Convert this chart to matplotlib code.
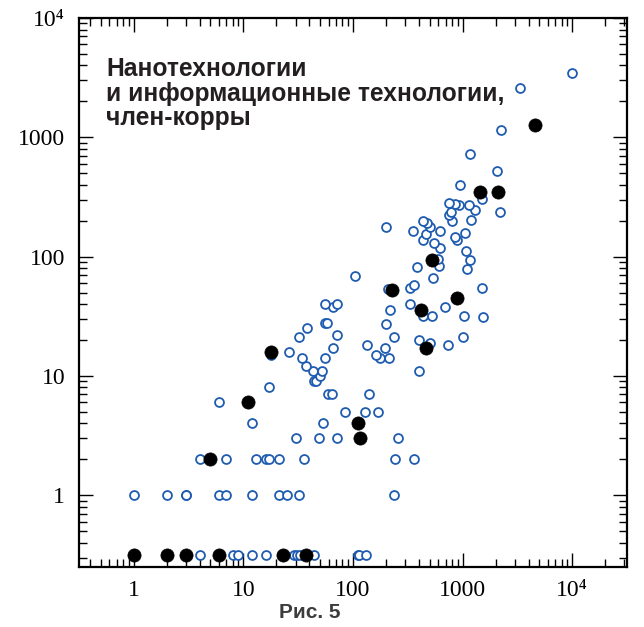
import numpy as np
import matplotlib
matplotlib.use("Agg")
import matplotlib.pyplot as plt
from matplotlib.ticker import LogLocator, FixedLocator, FixedFormatter, NullFormatter

# Members (open) -- x and y counts; y == 0 is drawn on the bottom "zero" row
open_x = [4, 8, 9, 12, 16, 29, 31, 33, 44, 110, 114, 132,
          1, 2, 3, 3, 6, 7, 12, 21, 25, 32, 235,
          4, 7, 13, 16, 17, 21, 36, 240, 360,
          30, 49, 71, 256,
          12, 53,
          84, 130, 170,
          6,
          59, 65, 139,
          17,
          44, 46,
          50,
          43, 52, 397,
          37,
          34, 56, 178, 213,
          18, 161,
          26,
          66, 197,
          134, 730,
          500,
          397,
          32, 235, 1010,
          71,
          38,
          201,
          56, 58,
          1520,
          434, 530, 1030,
          216,
          66, 690,
          55, 71, 334,
          208,
          334, 1510,
          363,
          536,
          104,
          1090,
          387,
          610,
          1160,
          595,
          1080,
          617,
          550,
          434, 890,
          850,
          466,
          1060,
          350, 620,
          200, 500,
          470,
          437,
          800,
          1200,
          750,
          780,
          1310,
          2210,
          920, 1140,
          860,
          750,
          1500,
          940,
          2050,
          1160,
          2250,
          3330,
          10000]
open_y = [0, 0, 0, 0, 0, 0, 0, 0, 0, 0, 0, 0,
          1, 1, 1, 1, 1, 1, 1, 1, 1, 1, 1,
          2, 2, 2, 2, 2, 2, 2, 2, 2,
          3, 3, 3, 3,
          4, 4,
          5, 5, 5,
          6,
          7, 7, 7,
          8,
          9, 9,
          10,
          11, 11, 11,
          12,
          14, 14, 14, 14,
          15, 15,
          16,
          17, 17,
          18, 18,
          19,
          20,
          21, 21, 21,
          22,
          25,
          27,
          28, 28,
          31,
          32, 32, 32,
          36,
          38, 38,
          40, 40, 40,
          53,
          55, 55,
          58,
          66,
          69,
          78,
          82,
          83,
          94,
          95,
          112,
          118,
          129,
          137, 137,
          146,
          156,
          159,
          165, 165,
          177, 177,
          191,
          197,
          198,
          202,
          222,
          237,
          248,
          236,
          270, 270,
          275,
          282,
          305,
          397,
          520,
          718,
          1160,
          2580,
          3470]

# Corresponding members (filled)
filled_x = [1, 2, 3, 6, 23, 37, 5, 11, 18, 110, 117, 228, 420, 468, 530, 890, 1450, 2110, 4600]
filled_y = [0, 0, 0, 0, 0, 0, 2, 6, 16, 4, 3, 52, 36, 17, 93, 45, 347, 347, 1270]

tick_values = [1, 10, 100, 1000, 10000]
tick_labels = ["1", "10", "100", "1000", "10\u2074"]

title_text = "Нанотехнологии\nи информационные технологии,\nчлен-корры"
caption_text = "Рис. 5"

ZERO_LEVEL = 10 ** -0.5   # where zero counts are placed on the log axis


def lift_zero(v):
    v = np.asarray(v, dtype=float)
    return np.where(v == 0, ZERO_LEVEL, v)


fig = plt.figure(figsize=(6.44, 6.27), dpi=100)
ax = fig.add_axes([79 / 644, 60 / 627, 548 / 644, 549 / 627])

ax.set_xscale("log")
ax.set_yscale("log")
ax.set_xlim(10 ** -0.5, 10 ** 4.5)
ax.set_ylim(0.25, 1e4)

blue = "#1f5cb0"
ax.plot(open_x, lift_zero(open_y), linestyle="none", marker="o",
        markersize=6.4, markerfacecolor="white", markeredgecolor=blue,
        markeredgewidth=1.3, zorder=3, clip_on=False)
ax.plot(filled_x, lift_zero(filled_y), linestyle="none", marker="o",
        markersize=9.5, markerfacecolor="black", markeredgecolor="black",
        markeredgewidth=0.5, zorder=4, clip_on=False)

for axis in (ax.xaxis, ax.yaxis):
    axis.set_major_locator(FixedLocator(tick_values))
    axis.set_major_formatter(FixedFormatter(tick_labels))
    axis.set_minor_locator(LogLocator(base=10, subs=np.arange(2, 10), numticks=20))
    axis.set_minor_formatter(NullFormatter())

ax.tick_params(which="both", direction="in", top=True, right=True, width=1.0, color="black")
ax.tick_params(which="major", length=10)
ax.tick_params(which="minor", length=5.5)
ax.tick_params(axis="x", which="major", pad=9)
ax.tick_params(axis="y", which="major", pad=10)

for lab in ax.get_xticklabels() + ax.get_yticklabels():
    lab.set_fontfamily(["Liberation Serif", "DejaVu Serif"])
    lab.set_fontsize(17)

for sp in ax.spines.values():
    sp.set_linewidth(1.6)
    sp.set_color("black")

fig.text(106 / 644, 1 - 57 / 627, title_text, ha="left", va="top",
         fontsize=17.7, fontweight="bold", family=["Liberation Sans", "DejaVu Sans"],
         color="#231f20", linespacing=1.03)
fig.text(310 / 644, 1 - 612 / 627, caption_text, ha="center", va="center",
         fontsize=15, fontweight="bold", family=["Liberation Sans", "DejaVu Sans"],
         color="#3c3c3c")

fig.savefig("out.png", dpi=100, facecolor="white")
